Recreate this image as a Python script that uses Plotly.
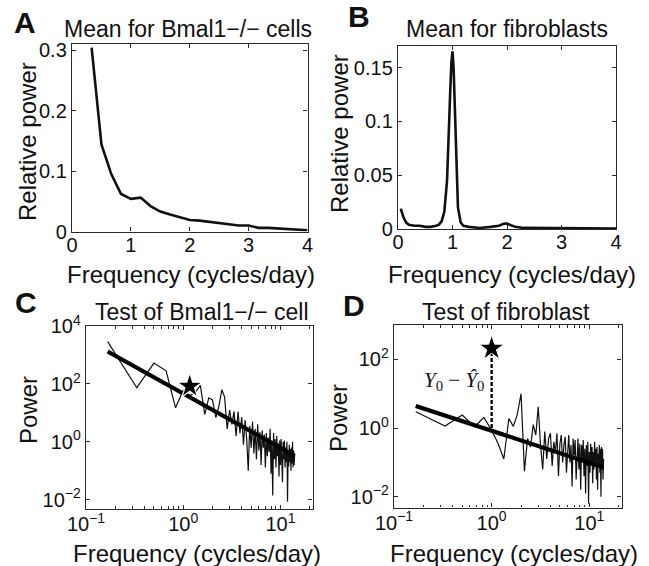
import plotly.graph_objects as go

# ---------------- data ----------------
# Panel A: mean relative power spectrum, Bmal1-/- cells
A_freq = [0.333, 0.5, 0.667, 0.833, 1.0, 1.167, 1.333, 1.5, 1.667, 1.833, 2.0, 2.167,
          2.333, 2.5, 2.667, 2.833, 3.0, 3.167, 3.333, 3.5, 3.667, 3.833, 4.0]
A_power = [0.304, 0.144, 0.095, 0.062, 0.054, 0.056, 0.042, 0.033, 0.028, 0.024, 0.019, 0.018,
           0.016, 0.014, 0.011, 0.010, 0.010, 0.006, 0.006, 0.005, 0.004, 0.003, 0.002]

# Panel B: mean relative power spectrum, fibroblasts
B_freq = [0.05, 0.1, 0.15, 0.2, 0.3, 0.4, 0.5, 0.6, 0.7, 0.75, 0.8, 0.85, 0.9, 0.93, 0.96,
          0.98, 1.0, 1.02, 1.04, 1.07, 1.1, 1.15, 1.2, 1.3, 1.5, 1.7, 1.85, 1.95, 2.0, 2.05,
          2.15, 2.3, 2.6, 3.0, 3.5, 4.0]
B_power = [0.019, 0.011, 0.006, 0.004, 0.003, 0.003, 0.002, 0.002, 0.003, 0.004, 0.007, 0.016,
           0.045, 0.08, 0.13, 0.155, 0.165, 0.15, 0.115, 0.06, 0.02, 0.006, 0.003, 0.002,
           0.001, 0.002, 0.003, 0.005, 0.005, 0.004, 0.002, 0.001, 0.001, 0.0005, 0.0005, 0.0005]

# Frequency grid of single-cell periodograms (cycles/day)
CELL_freq = [0.167, 0.333, 0.5, 0.667, 0.833, 1.0, 1.167, 1.333, 1.5, 1.667, 1.833, 2.0,
             2.167, 2.333, 2.5, 2.667, 2.833, 3.0, 3.167, 3.333, 3.5, 3.667, 3.833, 4.0,
             4.167, 4.333, 4.5, 4.667, 4.833, 5.0, 5.167, 5.333, 5.5, 5.667, 5.833, 6.0,
             6.167, 6.333, 6.5, 6.667, 6.833, 7.0, 7.167, 7.333, 7.5, 7.667, 7.833, 8.0,
             8.167, 8.333, 8.5, 8.667, 8.833, 9.0, 9.167, 9.333, 9.5, 9.667, 9.833, 10.0,
             10.167, 10.333, 10.5, 10.667, 10.833, 11.0, 11.167, 11.333, 11.5, 11.667, 11.833, 12.0,
             12.167, 12.333, 12.5, 12.667, 12.833, 13.0, 13.167, 13.333, 13.5, 13.667, 13.833, 14.0]

# Panel C: periodogram of one Bmal1-/- cell
C_power = [2880, 74, 525, 282, 15.1, 60, 40, 50, 89, 8.9, 33, 28,
           6.9, 17.8, 63, 35, 2.8, 12.6, 4.0, 11.2, 1.6, 11.2, 2.0, 7.1,
           0.79, 5.6, 1.26, 0.10, 3.5, 0.63, 5.0, 0.40, 2.8, 0.25, 4.0, 0.50,
           2.2, 0.16, 2.5, 0.63, 1.8, 0.13, 2.0, 0.32, 1.4, 0.45, 2.8, 0.079,
           1.1, 0.014, 2.0, 0.25, 1.26, 0.13, 1.6, 0.32, 0.89, 0.063, 1.1, 0.16,
           1.26, 0.35, 0.04, 1.0, 0.25, 1.1, 0.13, 0.63, 0.2, 1.0, 0.0085, 0.5,
           0.14, 0.79, 0.2, 0.56, 0.1, 0.63, 0.18, 1.0, 0.13, 0.5, 0.16, 0.35]
C_fit_freq = [0.167, 1.0, 14.0]
C_fit_power = [1320, 46, 0.33]
C_star_freq = [1.167]
C_star_power = [83]

# Panel D: periodogram of one fibroblast
D_power = [3.0, 1.15, 2.4, 1.1, 2.04, 0.87, 0.35, 0.126, 1.9, 1.12, 2.5, 10,
           0.056, 0.5, 0.28, 1.26, 0.63, 4.2, 0.32, 0.063, 0.79, 0.126, 0.5, 0.71,
           0.079, 0.4, 0.2, 0.71, 0.04, 0.35, 0.63, 0.1, 0.32, 0.56, 0.05, 0.25,
           0.63, 0.1, 0.32, 0.02, 0.5, 0.16, 0.45, 0.032, 0.25, 0.5, 0.063, 0.35,
           0.016, 0.32, 0.126, 0.45, 0.04, 0.25, 0.0126, 0.32, 0.079, 0.4, 0.0063, 0.2,
           0.05, 0.35, 0.1, 0.28, 0.025, 0.2, 0.063, 0.4, 0.1, 0.25, 0.032, 0.28,
           0.016, 0.18, 0.079, 0.32, 0.05, 0.25, 0.01, 0.28, 0.063, 0.25, 0.032, 0.126]
D_fit_freq = [0.167, 1.0, 14.0]
D_fit_power = [4.4, 0.83, 0.072]
D_star_freq = [1.0]
D_star_power = [210]
D_resid_freq = [1.0, 1.0]
D_resid_power = [1.0, 180]

# ---------------- styling ----------------
W, H = 649, 566
FONT = "Liberation Sans, Arial, sans-serif"
INK = "#111111"
AXC = "#2a2a2a"

def px(x):
    return x / W

def py(y):
    return 1 - y / H

fig = go.Figure()

# Panel A
fig.add_trace(go.Scatter(x=A_freq, y=A_power, mode="lines", line=dict(color=INK, width=2.6),
                         xaxis="x", yaxis="y", showlegend=False))
# Panel B
fig.add_trace(go.Scatter(x=B_freq, y=B_power, mode="lines", line=dict(color=INK, width=2.6),
                         xaxis="x2", yaxis="y2", showlegend=False))
# Panel C
fig.add_trace(go.Scatter(x=CELL_freq, y=C_power, mode="lines", line=dict(color=INK, width=1.2),
                         xaxis="x3", yaxis="y3", showlegend=False))
fig.add_trace(go.Scatter(x=C_fit_freq, y=C_fit_power, mode="lines", line=dict(color="#000", width=4.2),
                         xaxis="x3", yaxis="y3", showlegend=False))
fig.add_trace(go.Scatter(x=C_star_freq, y=C_star_power, mode="markers",
                         marker=dict(symbol="star", size=19, color="#000", line=dict(color="white", width=1.2)),
                         xaxis="x3", yaxis="y3", showlegend=False))
# Panel D
fig.add_trace(go.Scatter(x=CELL_freq, y=D_power, mode="lines", line=dict(color=INK, width=1.2),
                         xaxis="x4", yaxis="y4", showlegend=False))
fig.add_trace(go.Scatter(x=D_fit_freq, y=D_fit_power, mode="lines", line=dict(color="#000", width=4.2),
                         xaxis="x4", yaxis="y4", showlegend=False))
fig.add_trace(go.Scatter(x=D_resid_freq, y=D_resid_power, mode="lines",
                         line=dict(color="#000", width=2.4, dash="4px,2px"),
                         xaxis="x4", yaxis="y4", showlegend=False))
fig.add_trace(go.Scatter(x=D_star_freq, y=D_star_power, mode="markers",
                         marker=dict(symbol="star", size=19, color="#000", line=dict(color="white", width=1)),
                         xaxis="x4", yaxis="y4", showlegend=False))

axis_common = dict(showline=True, linecolor=AXC, linewidth=1.4, mirror="ticks", ticks="inside",
                   ticklen=4, tickwidth=1.2, tickcolor=AXC, showgrid=False, zeroline=False,
                   automargin=False,
                   tickfont=dict(family=FONT, size=20, color=INK), fixedrange=True)

sup = lambda e: "10<sup>%s</sup>" % e
minor_log = dict(ticks="inside", ticklen=2.5, tickcolor=AXC,
                 tickvals=[0.2, 0.3, 0.4, 0.5, 0.6, 0.7, 0.8, 0.9, 2, 3, 4, 5, 6, 7, 8, 9, 20])

fig.update_layout(
    width=W, height=H, margin=dict(l=0, r=0, t=0, b=0, pad=0, autoexpand=False),
    paper_bgcolor="white", plot_bgcolor="white",
    xaxis=dict(axis_common, domain=[px(72), px(307.5)], range=[0, 4],
               tickvals=[0, 1, 2, 3, 4], ticklabelstandoff=-5, anchor="y"),
    yaxis=dict(axis_common, domain=[py(231.5), py(44)], range=[0, 0.31],
               tickvals=[0, 0.1, 0.2, 0.3], ticktext=["0", "0.1", "0.2", "0.3"], anchor="x"),
    xaxis2=dict(axis_common, domain=[px(398), px(616)], range=[0, 4],
                tickvals=[0, 1, 2, 3, 4], ticklabelstandoff=-5, anchor="y2"),
    yaxis2=dict(axis_common, domain=[py(229), py(46)], range=[0, 0.17],
                tickvals=[0, 0.05, 0.1, 0.15], ticktext=["0", "0.05", "0.1", "0.15"], anchor="x2"),
    xaxis3=dict(axis_common, type="log", domain=[px(86), px(312.5)], range=[-1, 1.33],
                tickvals=[0.1, 1, 10], ticktext=[sup("−1"), sup("0"), sup("1")],
                ticklabelstandoff=-3, minor=minor_log, anchor="y3"),
    yaxis3=dict(axis_common, type="log", domain=[py(509), py(326)], range=[-2.32, 4],
                tickvals=[0.01, 1, 100, 10000], ticktext=[sup("−2"), sup("0"), sup("2"), sup("4")],
                anchor="x3"),
    xaxis4=dict(axis_common, type="log", domain=[px(394), px(621.5)], range=[-1, 1.33],
                tickvals=[0.1, 1, 10], ticktext=[sup("−1"), sup("0"), sup("1")],
                ticklabelstandoff=-3, minor=minor_log, anchor="y4"),
    yaxis4=dict(axis_common, type="log", domain=[py(507.5), py(325)], range=[-2.31, 3],
                tickvals=[0.01, 1, 100], ticktext=[sup("−2"), sup("0"), sup("2")],
                anchor="x4"),
)

def label(text, x, y, size=23, bold=False, angle=0, family=FONT, xanchor="center", color=INK):
    fig.add_annotation(text=("<b>%s</b>" % text) if bold else text, x=px(x), y=py(y),
                       xref="paper", yref="paper", showarrow=False, textangle=angle,
                       xanchor=xanchor, yanchor="middle",
                       font=dict(family=family, size=size, color=color))

# panel letters
label("A", 25, 22, size=30, bold=True)
label("B", 359, 17, size=30, bold=True)
label("C", 26, 302, size=30, bold=True)
label("D", 354, 305, size=30, bold=True)

# titles
label("Mean for Bmal1−/− cells", 188, 29)
label("Mean for fibroblasts", 507, 29)
label("Test of Bmal1−/− cell", 202, 312)
label("Test of fibroblast", 506, 312)

# x-axis titles
label("Frequency (cycles/day)", 191, 274, size=24)
label("Frequency (cycles/day)", 512, 274, size=24)
label("Frequency (cycles/day)", 197, 553, size=24)
label("Frequency (cycles/day)", 514, 553, size=24)

# y-axis titles
label("Relative power", 27, 142, size=24, angle=-90)
label("Relative power", 339, 134, size=24, angle=-90)
label("Power", 28, 410, size=24, angle=-90)
label("Power", 338, 418, size=24, angle=-90)

# residual annotation in panel D
label("<i>Y</i><sub>0</sub> − <i>Ŷ</i><sub>0</sub>", 486, 381, size=21,
      family="Liberation Serif, Times New Roman, serif", xanchor="right")

fig.write_html("out.html", config={"displayModeBar": False},
               post_script="document.body.style.margin='0';document.body.style.overflow='hidden';")
